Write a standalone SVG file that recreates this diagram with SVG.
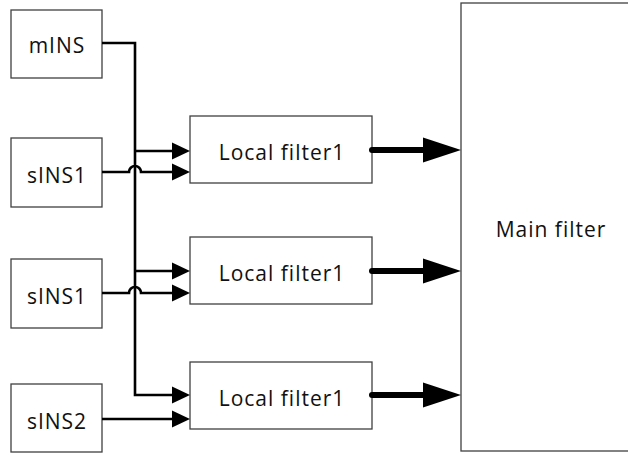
<svg xmlns="http://www.w3.org/2000/svg" width="628" height="454" viewBox="0 0 628 454">
<defs>
<style>
.box{fill:#fff;stroke:#404040;stroke-width:1.3}
.t{font-family:"Open Sans","Liberation Sans",sans-serif;font-size:21px;letter-spacing:1px;fill:#111;text-anchor:middle}
.w{fill:none;stroke:#000;stroke-width:2.6}
.th{fill:none;stroke:#000;stroke-width:6;stroke-linecap:round}
.ah{fill:#000}
</style>
</defs>
<rect width="628" height="454" fill="#fff"/>
<g id="mainfilter"><rect class="box" x="461" y="3" width="180" height="448"/><text class="t" x="551" y="237">Main filter</text></g>
<g id="mINS"><rect class="box" x="11" y="10" width="91" height="68"/><text class="t" x="57" y="53">mINS</text></g>
<g id="sINS1a"><rect class="box" x="11" y="138" width="91" height="69"/><text class="t" x="57" y="183">sINS1</text></g>
<g id="sINS1b"><rect class="box" x="11" y="259" width="91" height="69"/><text class="t" x="57" y="304">sINS1</text></g>
<g id="sINS2"><rect class="box" x="11" y="384" width="91" height="68"/><text class="t" x="57" y="429">sINS2</text></g>
<g id="lf1"><rect class="box" x="190" y="116" width="182" height="67"/><text class="t" x="282" y="160">Local filter1</text></g>
<g id="lf2"><rect class="box" x="190" y="237" width="182" height="67"/><text class="t" x="282" y="281">Local filter1</text></g>
<g id="lf3"><rect class="box" x="190" y="362" width="182" height="67"/><text class="t" x="282" y="406">Local filter1</text></g>
<g id="connectors">
<path class="w" d="M102,43 H135 V395 H173"/>
<path class="w" d="M135,151 H173"/>
<path class="w" d="M135,271 H173"/>
<path class="w" d="M102,172 H129 A6,6 0 0 1 141,172 H173"/>
<path class="w" d="M102,293 H129 A6,6 0 0 1 141,293 H173"/>
<path class="w" d="M102,419 H173"/>
<path class="ah" d="M190,151 L172,142.5 L172,159.5 Z"/>
<path class="ah" d="M190,172 L172,163.5 L172,180.5 Z"/>
<path class="ah" d="M190,271 L172,262.5 L172,279.5 Z"/>
<path class="ah" d="M190,293 L172,284.5 L172,301.5 Z"/>
<path class="ah" d="M190,395 L172,386.5 L172,403.5 Z"/>
<path class="ah" d="M190,419 L172,410.5 L172,427.5 Z"/>
<path class="th" d="M372,150 H428"/>
<path class="th" d="M372,271 H428"/>
<path class="th" d="M372,395 H428"/>
<path class="ah" d="M461,150 L423,137.5 L423,162.5 Z"/>
<path class="ah" d="M461,271 L423,258.5 L423,283.5 Z"/>
<path class="ah" d="M461,395 L423,382.5 L423,407.5 Z"/>
</g>
</svg>
